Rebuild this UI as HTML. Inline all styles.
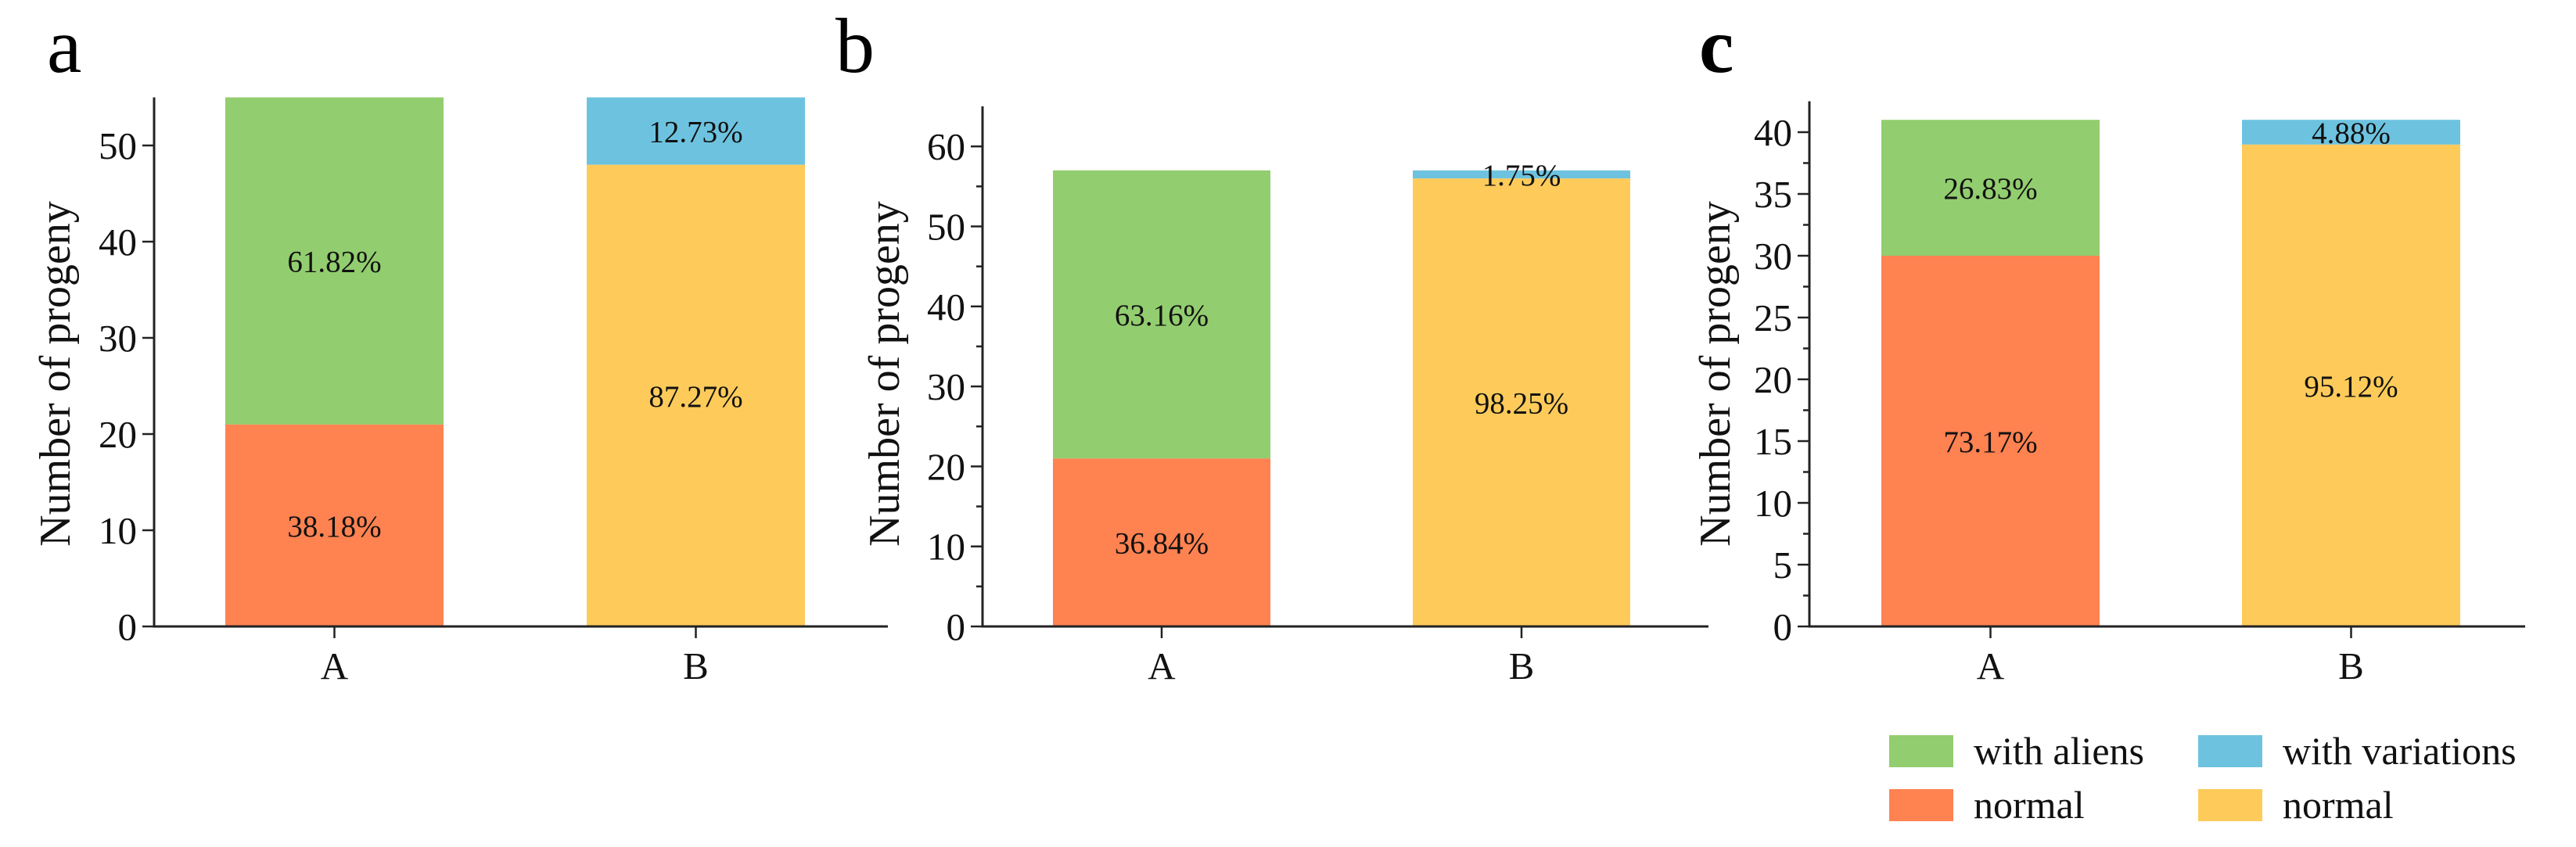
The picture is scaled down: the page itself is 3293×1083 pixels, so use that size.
<!DOCTYPE html>
<html><head><meta charset="utf-8"><style>
html,body{margin:0;padding:0;background:#fff;}
svg{display:block;font-family:"Liberation Serif",serif;}
</style></head><body>
<svg id="fig" width="3293" height="1083" viewBox="0 0 3293 1083" xmlns="http://www.w3.org/2000/svg"></svg>
<script>
const categories = ["A","B"];
const panelLetters = ["a","b","c"];
// values per panel: bottom segment (normal) and top segment
const bottomA = [21, 21, 30];
const topA = [34, 36, 11];
const bottomB = [48, 56, 39];
const topB = [7, 1, 2];
const pctBottomA = ["38.18%","36.84%","73.17%"];
const pctTopA = ["61.82%","63.16%","26.83%"];
const pctBottomB = ["87.27%","98.25%","95.12%"];
const pctTopB = ["12.73%","1.75%","4.88%"];
const yMax = [55, 65, 42.5];
const majorTicks = [[0,10,20,30,40,50],[0,10,20,30,40,50,60],[0,5,10,15,20,25,30,35,40]];
const minorTicks = [[],[5,15,25,35,45,55],[2.5,7.5,12.5,17.5,22.5,27.5,32.5,37.5]];

const layout = [
  {ax:197, xEnd:1135, unit:12.3, barL:[288,750], bw:279, title:70, letterX:60},
  {ax:1256, xEnd:2184, unit:10.23, barL:[1346,1806], bw:278, title:1130, letterX:1068},
  {ax:2313, xEnd:3228, unit:15.8, barL:[2405,2866], bw:279, title:2192, letterX:2172}
];
const base = 801;
const C = {green:"#92CD6F", red:"#FF8251", yellow:"#FECB5A", blue:"#6DC3DF"};
const svg = document.getElementById('fig');
const NS = "http://www.w3.org/2000/svg";
function mk(tag, attrs, text){
  const e = document.createElementNS(NS, tag);
  for (const k in attrs) e.setAttribute(k, attrs[k]);
  if (text !== undefined) e.textContent = text;
  svg.appendChild(e);
  return e;
}
layout.forEach((L, p) => {
  const y = v => base - v * L.unit;
  const segs = [
    [0, L.barL[0], 0, bottomA[p], C.red, pctBottomA[p], 'bar-a-normal'],
    [0, L.barL[0], bottomA[p], topA[p], C.green, pctTopA[p], 'bar-a-with-aliens'],
    [1, L.barL[1], 0, bottomB[p], C.yellow, pctBottomB[p], 'bar-b-normal'],
    [1, L.barL[1], bottomB[p], topB[p], C.blue, pctTopB[p], 'bar-b-with-variations']
  ];
  segs.forEach(s => {
    const r = mk('rect', {x:s[1], y:y(s[2]+s[3]), width:L.bw, height:s[3]*L.unit, fill:s[4]});
    
    
    const cy = (y(s[2]) + y(s[2]+s[3])) / 2;
    const t = mk('text', {x:s[1]+L.bw/2, y:cy+14, 'font-size':39, 'text-anchor':'middle', fill:'#111'}, s[5]);
    
    
  });
  const top = y(yMax[p]);
  const ya = mk('line', {x1:L.ax, y1:top, x2:L.ax, y2:base+1.5, stroke:'#222', 'stroke-width':3});
  
  
  const xa = mk('line', {x1:L.ax-1.5, y1:base, x2:L.xEnd, y2:base, stroke:'#222', 'stroke-width':3});
  
  
  majorTicks[p].forEach(v => {
    mk('line', {x1:L.ax-15, y1:y(v), x2:L.ax, y2:y(v), stroke:'#222', 'stroke-width':2.5});
    const t = mk('text', {x:L.ax-22, y:y(v)+17, 'font-size':49, 'text-anchor':'end', fill:'#111'}, String(v));
    
    
  });
  minorTicks[p].forEach(v => {
    mk('line', {x1:L.ax-8, y1:y(v), x2:L.ax, y2:y(v), stroke:'#222', 'stroke-width':2.5});
  });
  categories.forEach((c, i) => {
    const cx = L.barL[i] + L.bw/2;
    mk('line', {x1:cx, y1:base, x2:cx, y2:base+15, stroke:'#222', 'stroke-width':2.5});
    const t = mk('text', {x:cx, y:868, 'font-size':49, 'text-anchor':'middle', fill:'#111'}, c);
    
    
  });
  const tt = mk('text', {x:L.title, y:478, 'font-size':56, 'text-anchor':'middle', fill:'#111', transform:'rotate(-90 ' + L.title + ' 478) translate(0 19)'}, 'Number of progeny');
  
  
  const lt = mk('text', {x:L.letterX, y:92, 'font-size':100, fill:'#000', 'font-weight': p===2 ? 'bold' : 'normal'}, panelLetters[p]);
  
  
});
const legendItems = [
  [2415, 940, C.green, 'with aliens', 'legend-with-aliens'],
  [2810, 940, C.blue, 'with variations', 'legend-with-variations'],
  [2415, 1009, C.red, 'normal', 'legend-normal-a'],
  [2810, 1009, C.yellow, 'normal', 'legend-normal-b']
];
legendItems.forEach(it => {
  const r = mk('rect', {x:it[0], y:it[1], width:82, height:41, fill:it[2]});
  
  
  const t = mk('text', {x:it[0]+108, y:it[1]+37, 'font-size':50, fill:'#111'}, it[3]);
  
  
});
</script>
</body></html>
